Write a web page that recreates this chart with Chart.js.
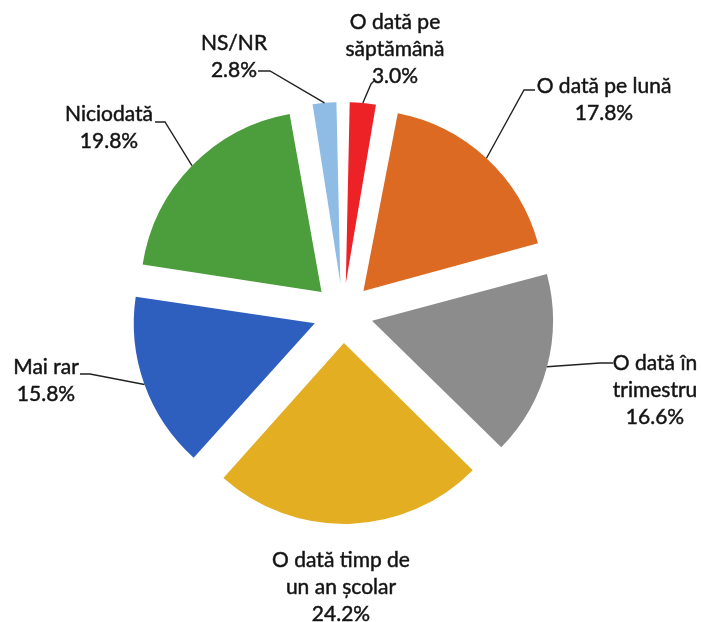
<!DOCTYPE html>
<html>
<head>
<meta charset="utf-8">
<script src="https://cdn.jsdelivr.net/npm/chart.js@4.4.0/dist/chart.umd.min.js"></script>
<style>
body { margin: 0; background: #fff; }
</style>
</head>
<body>
<canvas id="chart" width="701" height="622"></canvas>
<script>
const categories = [['O dată pe', 'săptămână'], ['O dată pe lună'], ['O dată în', 'trimestru'], ['O dată timp de', 'un an școlar'], ['Mai rar'], ['Niciodată'], ['NS/NR']];
const values = [3.0, 17.8, 16.6, 24.2, 15.8, 19.8, 2.8];
const colors = ['#ec2227', '#dc6a23', '#8c8c8c', '#e4ae22', '#2e5ebe', '#4c9d3c', '#8ebce4'];

// where the labels sit: centre x, first line y, leader start
const labelPos = [
    {x: 395, y: 22, lead: [[374, 81], [371, 84]]},
    {x: 604, y: 86, lead: [[535, 90], [524, 90]]},
    {x: 655, y: 363, lead: [[613, 363], [600, 363]]},
    {x: 341, y: 560, lead: null},
    {x: 46, y: 367, lead: [[80, 374], [90, 374]]},
    {x: 109, y: 114, lead: [[155, 122], [165, 122]]},
    {x: 234, y: 43, lead: [[258, 71], [270, 71]]}
];
const pieRadius = 181;
const explode = 120; // chart.js draws offset / 4

const pieLabels = {
    id: 'pieLabels',
    afterDatasetUpdate(chart, args) {
        // chart.js grows thin slices by the offset, undo that so all have same radius
        args.meta.data.forEach(arc => {
            const fix = 1 - Math.sin(Math.min(Math.PI, arc.circumference));
            arc.outerRadius = pieRadius - explode / 4 * fix;
        });
    },
    afterDraw(chart) {
        const ctx = chart.ctx;
        const arcs = chart.getDatasetMeta(0).data;
        ctx.save();
        ctx.font = '21px Lato';
        ctx.fillStyle = '#111';
        ctx.strokeStyle = '#222';
        ctx.textAlign = 'center';
        ctx.textBaseline = 'middle';
        arcs.forEach((arc, i) => {
            const p = labelPos[i];
            const lines = categories[i].concat(values[i].toFixed(1) + '%');
            ctx.lineWidth = 0.5; // a bit heavier, like the scan
            lines.forEach((t, k) => {
                ctx.fillText(t, p.x, p.y + k * 27);
                ctx.strokeText(t, p.x, p.y + k * 27);
            });
            if (p.lead) {
                const mid = (arc.startAngle + arc.endAngle) / 2;
                const d = explode / 4 + pieRadius;
                ctx.lineWidth = 1.4;
                ctx.beginPath();
                ctx.moveTo(p.lead[0][0], p.lead[0][1]);
                ctx.lineTo(p.lead[1][0], p.lead[1][1]);
                ctx.lineTo(arc.x + Math.cos(mid) * d, arc.y + Math.sin(mid) * d);
                ctx.stroke();
            }
        });
        ctx.restore();
    }
};

const ctx = document.getElementById('chart').getContext('2d');
const myChart = new Chart(ctx, {
    type: 'pie',
    data: {
        labels: categories,
        datasets: [{
            data: values,
            backgroundColor: colors,
            borderWidth: 0,
            offset: explode
        }]
    },
    options: {
        responsive: false,
        animation: false,
        events: [],
        radius: pieRadius,
        layout: {
            padding: {left: 0, right: 15, top: 4, bottom: 0}
        },
        plugins: {
            legend: {display: false},
            tooltip: {enabled: false}
        }
    },
    plugins: [pieLabels]
});
</script>
</body>
</html>
